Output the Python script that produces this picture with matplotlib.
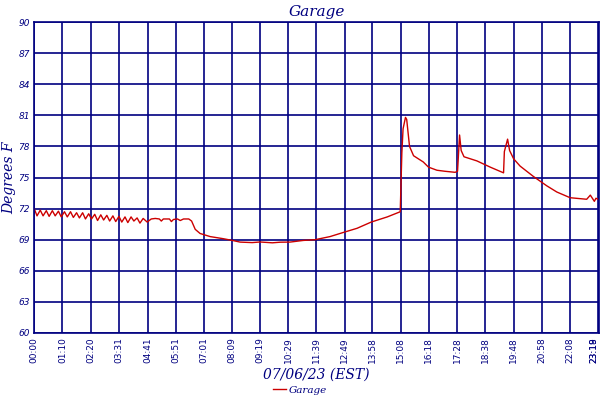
import matplotlib
matplotlib.use("Agg")
import matplotlib.pyplot as plt

# minutes after midnight and temperature
minutes = [0, 7, 15, 22, 30, 37, 45, 52, 60, 67, 75, 82, 90, 97, 105, 112, 120, 127,
           135, 142, 150, 157, 165, 172, 180, 187, 195, 202, 210, 217, 225, 232, 240,
           247, 255, 262, 270, 280, 290, 300, 310, 315, 320, 335, 340, 345, 355, 362,
           370, 383, 390, 399, 411, 436, 468, 491, 510, 540, 560, 590, 610, 634, 667,
           696, 733, 766, 800, 835, 875, 904, 907, 911, 914, 920, 923, 930, 940, 964,
           977, 998, 1018, 1043, 1049, 1054, 1058, 1065, 1097, 1130, 1163, 1165, 1173,
           1178, 1188, 1204, 1237, 1270, 1295, 1328, 1369, 1378, 1388, 1392, 1397]
temps = [72.0, 71.3, 71.85, 71.3, 71.8, 71.25, 71.8, 71.3, 71.75, 71.2, 71.7, 71.2,
         71.7, 71.15, 71.6, 71.1, 71.6, 71.0, 71.5, 71.0, 71.45, 70.85, 71.4, 70.9,
         71.35, 70.8, 71.3, 70.75, 71.25, 70.7, 71.2, 70.65, 71.2, 70.8, 71.1, 70.6,
         71.05, 70.7, 71.0, 71.05, 71.0, 70.8, 71.0, 71.0, 70.75, 70.95, 71.0, 70.85,
         71.0, 71.0, 70.8, 70.0, 69.6, 69.3, 69.1, 68.93, 68.77, 68.72, 68.78, 68.7,
         68.76, 68.77, 68.93, 69.0, 69.3, 69.7, 70.1, 70.7, 71.2, 71.65, 71.7, 77.4,
         79.7, 80.8, 80.6, 78.0, 77.1, 76.5, 76.0, 75.7, 75.6, 75.5, 75.6, 79.1, 77.6,
         77.0, 76.6, 76.0, 75.45, 77.5, 78.7, 77.6, 76.8, 76.1, 75.1, 74.2, 73.6, 73.05,
         72.9, 73.3, 72.7, 73.0, 72.9]

tick_minutes = [0, 70, 140, 211, 281, 351, 421, 489, 559, 629, 699, 769, 838, 908,
                978, 1048, 1118, 1188, 1258, 1328, 1398, 1399]
tick_labels = ["00:00", "01:10", "02:20", "03:31", "04:41", "05:51", "07:01", "08:09",
               "09:19", "10:29", "11:39", "12:49", "13:58", "15:08", "16:18", "17:28",
               "18:38", "19:48", "20:58", "22:08", "23:18", "23:19"]
y_ticks = [60, 63, 66, 69, 72, 75, 78, 81, 84, 87, 90]

navy = "#000080"
red = "#cc0000"

fig = plt.figure(figsize=(6, 4), dpi=100)
ax = fig.add_axes([0.057, 0.1675, 0.941, 0.7775])

ax.plot(minutes, temps, color=red, linewidth=1.0, label="Garage")

ax.set_xlim(0, 1399)
ax.set_ylim(60, 90)
ax.set_xticks(tick_minutes)
ax.set_xticklabels(tick_labels, rotation=90, fontsize=6.5, color=navy,
                   family="DejaVu Sans")
# the last two labels sit on the right edge, keep them inside the figure
for lab in ax.get_xticklabels()[-2:]:
    lab.set_horizontalalignment("right")
ax.set_yticks(y_ticks)
ax.set_yticklabels([str(v) for v in y_ticks], fontsize=6.5, color=navy,
                   style="italic")
ax.tick_params(length=0, pad=3)
ax.grid(True, color=navy, linewidth=1.2)
ax.set_axisbelow(True)
for s in ax.spines.values():
    s.set_color(navy)
    s.set_linewidth(1.2)

ax.set_title("Garage", fontsize=11, color=navy, style="italic",
             family="DejaVu Serif", pad=4)
ax.set_ylabel("Degrees F", fontsize=10, color=navy, style="italic",
              family="DejaVu Serif", labelpad=2)
ax.set_xlabel("07/06/23 (EST)", fontsize=10, color=navy, style="italic",
              family="DejaVu Serif", labelpad=3)

leg = fig.legend(loc="lower center", bbox_to_anchor=(0.5, -0.01), frameon=False,
                 fontsize=7.5, handlelength=1.3, handletextpad=0.3)
for t in leg.get_texts():
    t.set_color(navy)
    t.set_style("italic")
    t.set_family("DejaVu Serif")

fig.savefig("out.png", dpi=100)
